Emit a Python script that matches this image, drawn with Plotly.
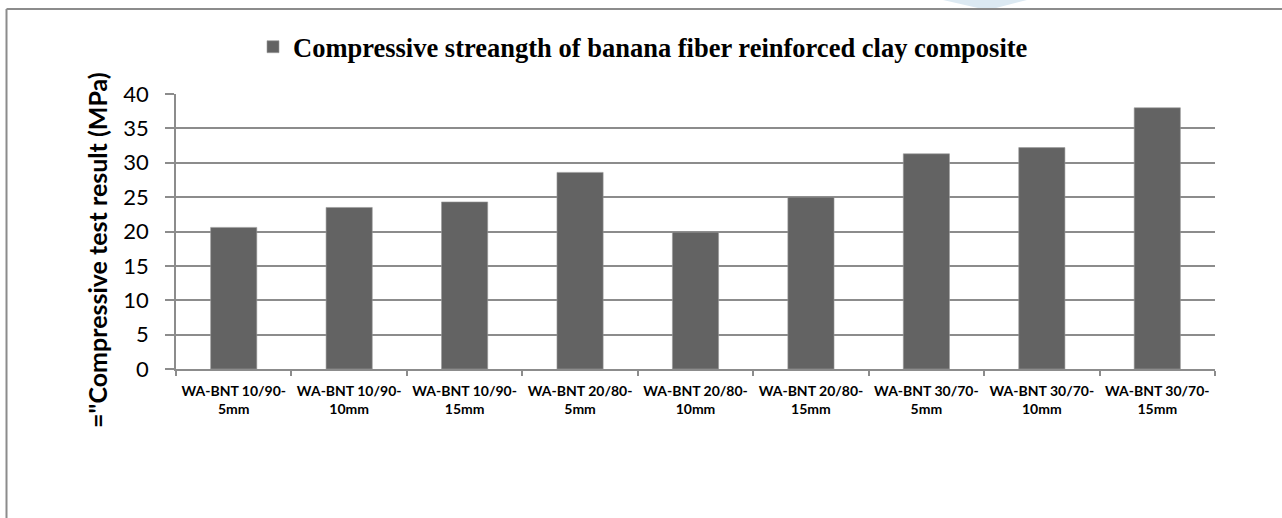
import plotly.graph_objects as go

# Sample groups (fiber/clay ratio - fiber length) and measured compressive strength
categories = [
    "WA-BNT 10/90-<br>5mm", "WA-BNT 10/90-<br>10mm", "WA-BNT 10/90-<br>15mm",
    "WA-BNT 20/80-<br>5mm", "WA-BNT 20/80-<br>10mm", "WA-BNT 20/80-<br>15mm",
    "WA-BNT 30/70-<br>5mm", "WA-BNT 30/70-<br>10mm", "WA-BNT 30/70-<br>15mm",
]
strength_mpa = [20.6, 23.5, 24.3, 28.6, 19.9, 25.0, 31.3, 32.2, 38.0]
series_name = "Compressive streangth of banana fiber reinforced clay composite"
y_title = '="Compressive test result (MPa)'
y_ticks = [0, 5, 10, 15, 20, 25, 30, 35, 40]

W, H = 1282, 518
L, R, T, B = 176, 67, 94, 149
pw, ph = W - L - R, H - T - B

def px_x(px):
    return (px - L) / pw

def px_y(py):
    return (H - B - py) / ph

grey = "#8c8c8c"
body = "Lato"

fig = go.Figure(
    go.Bar(
        x=categories,
        y=strength_mpa,
        name=series_name,
        marker=dict(color="#636363", line=dict(color="#9a9a9a", width=0.6)),
        showlegend=True,
    )
)

fig.update_layout(
    width=W,
    height=H,
    margin=dict(l=L, r=R, t=T, b=B),
    paper_bgcolor="white",
    plot_bgcolor="white",
    bargap=0.6,
    showlegend=True,
    legend=dict(
        orientation="h",
        x=px_x(253),
        xanchor="left",
        y=px_y(47),
        yanchor="middle",
        font=dict(family="Liberation Serif", size=26.5, color="black", weight="bold"),
        itemclick=False,
        bgcolor="rgba(0,0,0,0)",
    ),
    xaxis=dict(
        showline=True,
        linecolor=grey,
        linewidth=1.5,
        ticks="outside",
        tickson="boundaries",
        ticklen=5,
        tickcolor=grey,
        tickwidth=1.5,
        tickangle=0,
        ticklabelstandoff=8,
        tickfont=dict(family=body, size=14, color="black", weight="bold"),
        showgrid=False,
    ),
    yaxis=dict(
        range=[0, 40],
        tickvals=y_ticks,
        showline=True,
        linecolor=grey,
        linewidth=1.5,
        ticks="outside",
        ticklen=9,
        tickcolor=grey,
        tickwidth=1.5,
        ticklabelstandoff=12,
        tickfont=dict(family=body, size=22, color="black"),
        showgrid=True,
        gridcolor=grey,
        gridwidth=1.6,
        zeroline=False,
    ),
    annotations=[
        dict(
            text=y_title,
            textangle=-90,
            xref="paper",
            yref="paper",
            x=px_x(97),
            y=px_y(250),
            xanchor="center",
            yanchor="middle",
            showarrow=False,
            font=dict(family=body, size=25, color="black", weight="bold"),
        )
    ],
    shapes=[
        # chart frame (left and top edges fall inside the page)
        dict(type="line", xref="paper", yref="paper",
             x0=px_x(6.5), x1=px_x(1290), y0=px_y(9), y1=px_y(9),
             line=dict(color=grey, width=2)),
        dict(type="line", xref="paper", yref="paper",
             x0=px_x(6.5), x1=px_x(6.5), y0=px_y(9), y1=px_y(530),
             line=dict(color=grey, width=2)),
        # faint page logo peeking in at the top
        dict(type="path", xref="paper", yref="paper",
             path=(f"M {px_x(943)},{px_y(0)} L {px_x(1027)},{px_y(0)} "
                   f"L {px_x(996)},{px_y(8)} L {px_x(978)},{px_y(8)} Z"),
             fillcolor="#dce9f2", line=dict(width=0), layer="below"),
    ],
)

fig.write_html("out.html")
